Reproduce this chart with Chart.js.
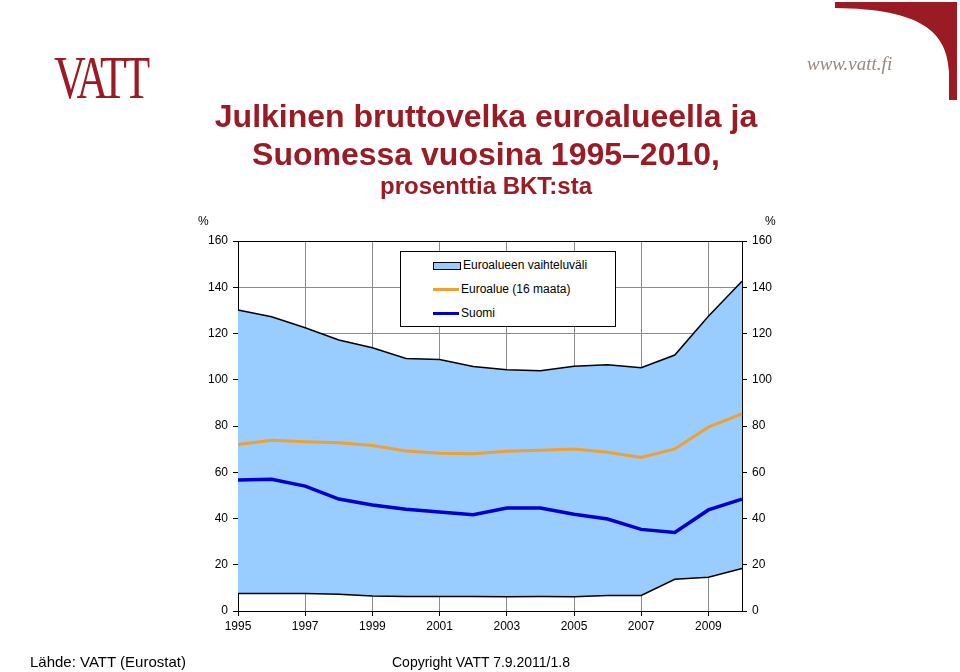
<!DOCTYPE html>
<html>
<head>
<meta charset="utf-8">
<script src="https://cdn.jsdelivr.net/npm/chart.js@4"></script>
<style>
  body { margin: 0; background: #fff; font-family: "Liberation Sans", Arial, sans-serif; }
  #page { position: relative; width: 960px; height: 672px; overflow: hidden; }
  #chart { position: absolute; left: 0; top: 0; }
  .abs { position: absolute; }
  .title { left: 136px; width: 700px; text-align: center; color: #9b1b24; font-weight: bold; white-space: nowrap; }
  .pct { font-size: 12px; color: #000; }
  #legend { left: 400px; top: 251px; width: 214px; height: 74px; border: 1.5px solid #000; background: #fff; z-index: 2; }
  .item { position: absolute; left: 32px; height: 16px; font-size: 12px; line-height: 16px; white-space: nowrap; }
  .sw { display: inline-block; width: 26px; vertical-align: middle; margin-right: 2px; }
  .foot { top: 653px; font-size: 15px; }
</style>
</head>
<body>
<div id="page">
  <canvas id="chart" width="960" height="672"></canvas>

  <div class="abs" style="left:54px;top:42px;color:#9b1b24;font-family:'Liberation Serif',serif;font-size:62px;letter-spacing:-5px;transform:scaleX(0.71);transform-origin:0 0;">VATT</div>
  <div class="abs" style="left:807px;top:53px;color:#968a80;font-family:'Liberation Serif',serif;font-style:italic;font-size:19px;">www.vatt.fi</div>
  <svg class="abs" style="left:0;top:0" width="960" height="110">
    <path d="M835,2 L957,2 L957,100 L949,100 L949,72 C947,32 922,9 835,8 Z" fill="#9b1b24"/>
  </svg>

  <div class="abs title" style="top:99px;font-size:32px;line-height:34px;">Julkinen bruttovelka euroalueella ja</div>
  <div class="abs title" style="top:137px;font-size:32px;line-height:34px;">Suomessa vuosina 1995–2010,</div>
  <div class="abs title" style="top:173px;font-size:24px;line-height:26px;">prosenttia BKT:sta</div>

  <div class="abs pct" style="left:198px;top:214px;">%</div>
  <div class="abs pct" style="left:765px;top:214px;">%</div>

  <div id="legend" class="abs">
    <div class="item" style="top:5px;"><span class="sw" style="height:6px;background:#99ccff;border:1.5px solid #000;"></span>Euroalueen vaihteluväli</div>
    <div class="item" style="top:29px;"><span class="sw" style="height:3px;background:#f0a030;"></span>Euroalue (16 maata)</div>
    <div class="item" style="top:53px;"><span class="sw" style="height:3px;background:#0000cc;"></span>Suomi</div>
  </div>

  <div class="abs foot" style="left:30px;">Lähde: VATT (Eurostat)</div>
  <div class="abs foot" style="left:392px;font-size:14px;top:654px;">Copyright VATT 7.9.2011/1.8</div>
</div>

<script>
const years = ["1995","1996","1997","1998","1999","2000","2001","2002","2003","2004","2005","2006","2007","2008","2009","2010"];
const rangeMax = [130.2, 127.2, 122.5, 117.2, 113.8, 109.2, 108.8, 105.7, 104.3, 103.9, 105.8, 106.5, 105.2, 110.7, 127.5, 142.6];
const rangeMin = [7.6, 7.6, 7.6, 7.2, 6.5, 6.3, 6.3, 6.3, 6.2, 6.3, 6.2, 6.7, 6.7, 13.7, 14.6, 18.4];
const euroArea = [72.0, 73.8, 73.2, 72.8, 71.6, 69.2, 68.2, 68.0, 69.1, 69.5, 70.1, 68.6, 66.4, 70.1, 79.5, 85.2];
const finland = [56.6, 57.0, 54.0, 48.4, 45.8, 44.0, 42.8, 41.6, 44.5, 44.5, 41.8, 39.8, 35.3, 34.0, 43.7, 48.4];

const tickFont = { family: "'Liberation Sans', Arial, sans-serif", size: 12 };

new Chart(document.getElementById("chart"), {
    type: "line",
    data: {
        labels: years,
        datasets: [
            { label: "Suomi", data: finland, borderColor: "#0000cc", borderWidth: 3.5, fill: false },
            { label: "Euroalue (16 maata)", data: euroArea, borderColor: "#f0a030", borderWidth: 3, fill: false },
            { label: "max", data: rangeMax, borderColor: "#000", borderWidth: 1.5, fill: "+1", backgroundColor: "#99ccff" },
            { label: "min", data: rangeMin, borderColor: "#000", borderWidth: 1.5, fill: false }
        ]
    },
    options: {
        responsive: false,
        animation: false,
        devicePixelRatio: 1,
        elements: { point: { radius: 0 }, line: { tension: 0 } },
        layout: { padding: { top: 241, left: 0, right: 0, bottom: 0 } },
        plugins: {
            legend: { display: false },
            tooltip: { enabled: false },
            filler: { drawTime: "beforeDatasetsDraw" }
        },
        scales: {
            x: {
                type: "category",
                offset: false,
                afterFit: s => { s.height = 61; },
                border: { color: "#000", width: 1 },
                grid: {
                    color: c => (c.index % 2 === 0 && c.index > 0 && c.index < 15) ? "#8c8c8c" : "transparent",
                    tickColor: c => (c.index % 2 === 0) ? "#000" : "transparent",
                    tickLength: 5
                },
                ticks: {
                    autoSkip: false, maxRotation: 0, color: "#000", font: tickFont, padding: 3,
                    callback: (v, i) => (i % 2 === 0 ? years[i] : "")
                }
            },
            y: {
                position: "left",
                min: 0, max: 160,
                afterFit: s => { s.width = 238; },
                border: { color: "#000", width: 1 },
                grid: {
                    color: c => (c.tick.value === 160 || c.tick.value === 0) ? "#000" : "#8c8c8c",
                    tickColor: "#000",
                    tickLength: 5
                },
                ticks: { stepSize: 20, color: "#000", font: tickFont, padding: 5 }
            },
            y2: {
                position: "right",
                min: 0, max: 160,
                afterFit: s => { s.width = 218; },
                border: { color: "#000", width: 1 },
                grid: { drawOnChartArea: false, tickColor: "#000", tickLength: 5 },
                ticks: { stepSize: 20, color: "#000", font: tickFont, padding: 5 }
            }
        }
    }
});
</script>
</body>
</html>
